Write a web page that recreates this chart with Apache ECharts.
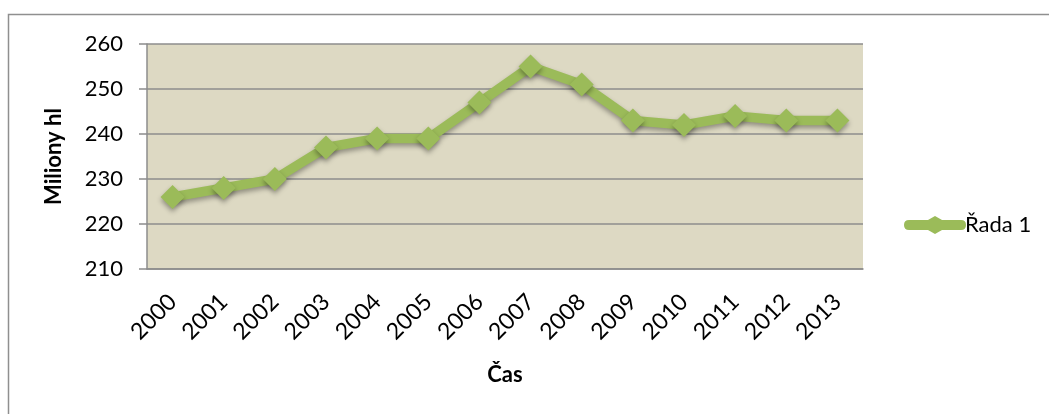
<!DOCTYPE html>
<html>
<head>
<meta charset="utf-8">
<script src="https://cdn.jsdelivr.net/npm/echarts@6/dist/echarts.min.js"></script>
<style>
html,body{margin:0;padding:0;background:#fff;}
#c{width:1049px;height:414px;}
</style>
</head>
<body>
<div id="c"></div>
<script>
const years = ['2000','2001','2002','2003','2004','2005','2006','2007','2008','2009','2010','2011','2012','2013'];
const values = [226, 228, 230, 237, 239, 239, 247, 255, 251, 243, 242, 244, 243, 243];
const seriesName = 'Řada 1';
const yAxisTitle = 'Miliony hl';
const xAxisTitle = 'Čas';

const FONT = 'Lato, "Open Sans", sans-serif';
const GREEN = '#9BBB59';
const GRIDC = '#8c8c8c';

const chart = echarts.init(document.getElementById('c'), null, {renderer: 'canvas'});
chart.setOption({
  animation: false,
  backgroundColor: '#ffffff',
  graphic: [{
    type: 'rect',
    shape: {x: 8.5, y: 14.5, width: 1060, height: 420},
    style: {fill: 'none', stroke: '#8f8f8f', lineWidth: 1.5},
    z: -1
  }],
  grid: {left: 147, top: 44, right: 186, bottom: 145, show: true, backgroundColor: '#DDD9C3', borderWidth: 0},
  legend: {
    show: true,
    left: 899, top: 209,
    itemWidth: 62, itemHeight: 18,
    itemGap: 0,
    textStyle: {fontFamily: FONT, fontSize: 22, color: '#000', padding: [0,0,0,-6]},
    data: [{name: seriesName, icon: 'path://M5,4 L24,4 L31,0 L38,4 L57,4 Q62,4 62,9 Q62,14 57,14 L38,14 L31,18 L24,14 L5,14 Q0,14 0,9 Q0,4 5,4 Z'}]
  },
  xAxis: {
    type: 'category',
    data: years,
    boundaryGap: true,
    name: xAxisTitle,
    nameLocation: 'middle',
    nameGap: 95,
    nameTextStyle: {fontFamily: FONT, fontSize: 22, fontWeight: 'bold', color: '#000'},
    axisLine: {show: true, lineStyle: {color: GRIDC, width: 1.5}},
    axisTick: {show: false},
    axisLabel: {rotate: 45, margin: 29, fontFamily: FONT, fontSize: 23, color: '#000', interval: 0}
  },
  yAxis: {
    type: 'value',
    min: 210, max: 260, interval: 10,
    name: yAxisTitle,
    nameLocation: 'middle',
    nameGap: 82,
    nameRotate: 90,
    nameTextStyle: {fontFamily: FONT, fontSize: 22, fontWeight: 'bold', color: '#000'},
    axisLine: {show: true, lineStyle: {color: GRIDC, width: 1.5}},
    axisTick: {show: true, inside: false, length: 8, lineStyle: {color: GRIDC, width: 1.5}},
    axisLabel: {margin: 24, fontFamily: FONT, fontSize: 22, color: '#000'},
    splitLine: {show: true, lineStyle: {color: GRIDC, width: 1.5}}
  },
  series: [{
    name: seriesName,
    type: 'line',
    data: values,
    symbol: 'diamond',
    symbolSize: 24,
    color: GREEN,
    lineStyle: {color: GREEN, width: 9.5, shadowColor: 'rgba(0,0,0,0.35)', shadowBlur: 5, shadowOffsetY: 3},
    itemStyle: {color: GREEN, shadowColor: 'rgba(0,0,0,0.35)', shadowBlur: 5, shadowOffsetY: 3}
  }]
});
</script>
</body>
</html>
